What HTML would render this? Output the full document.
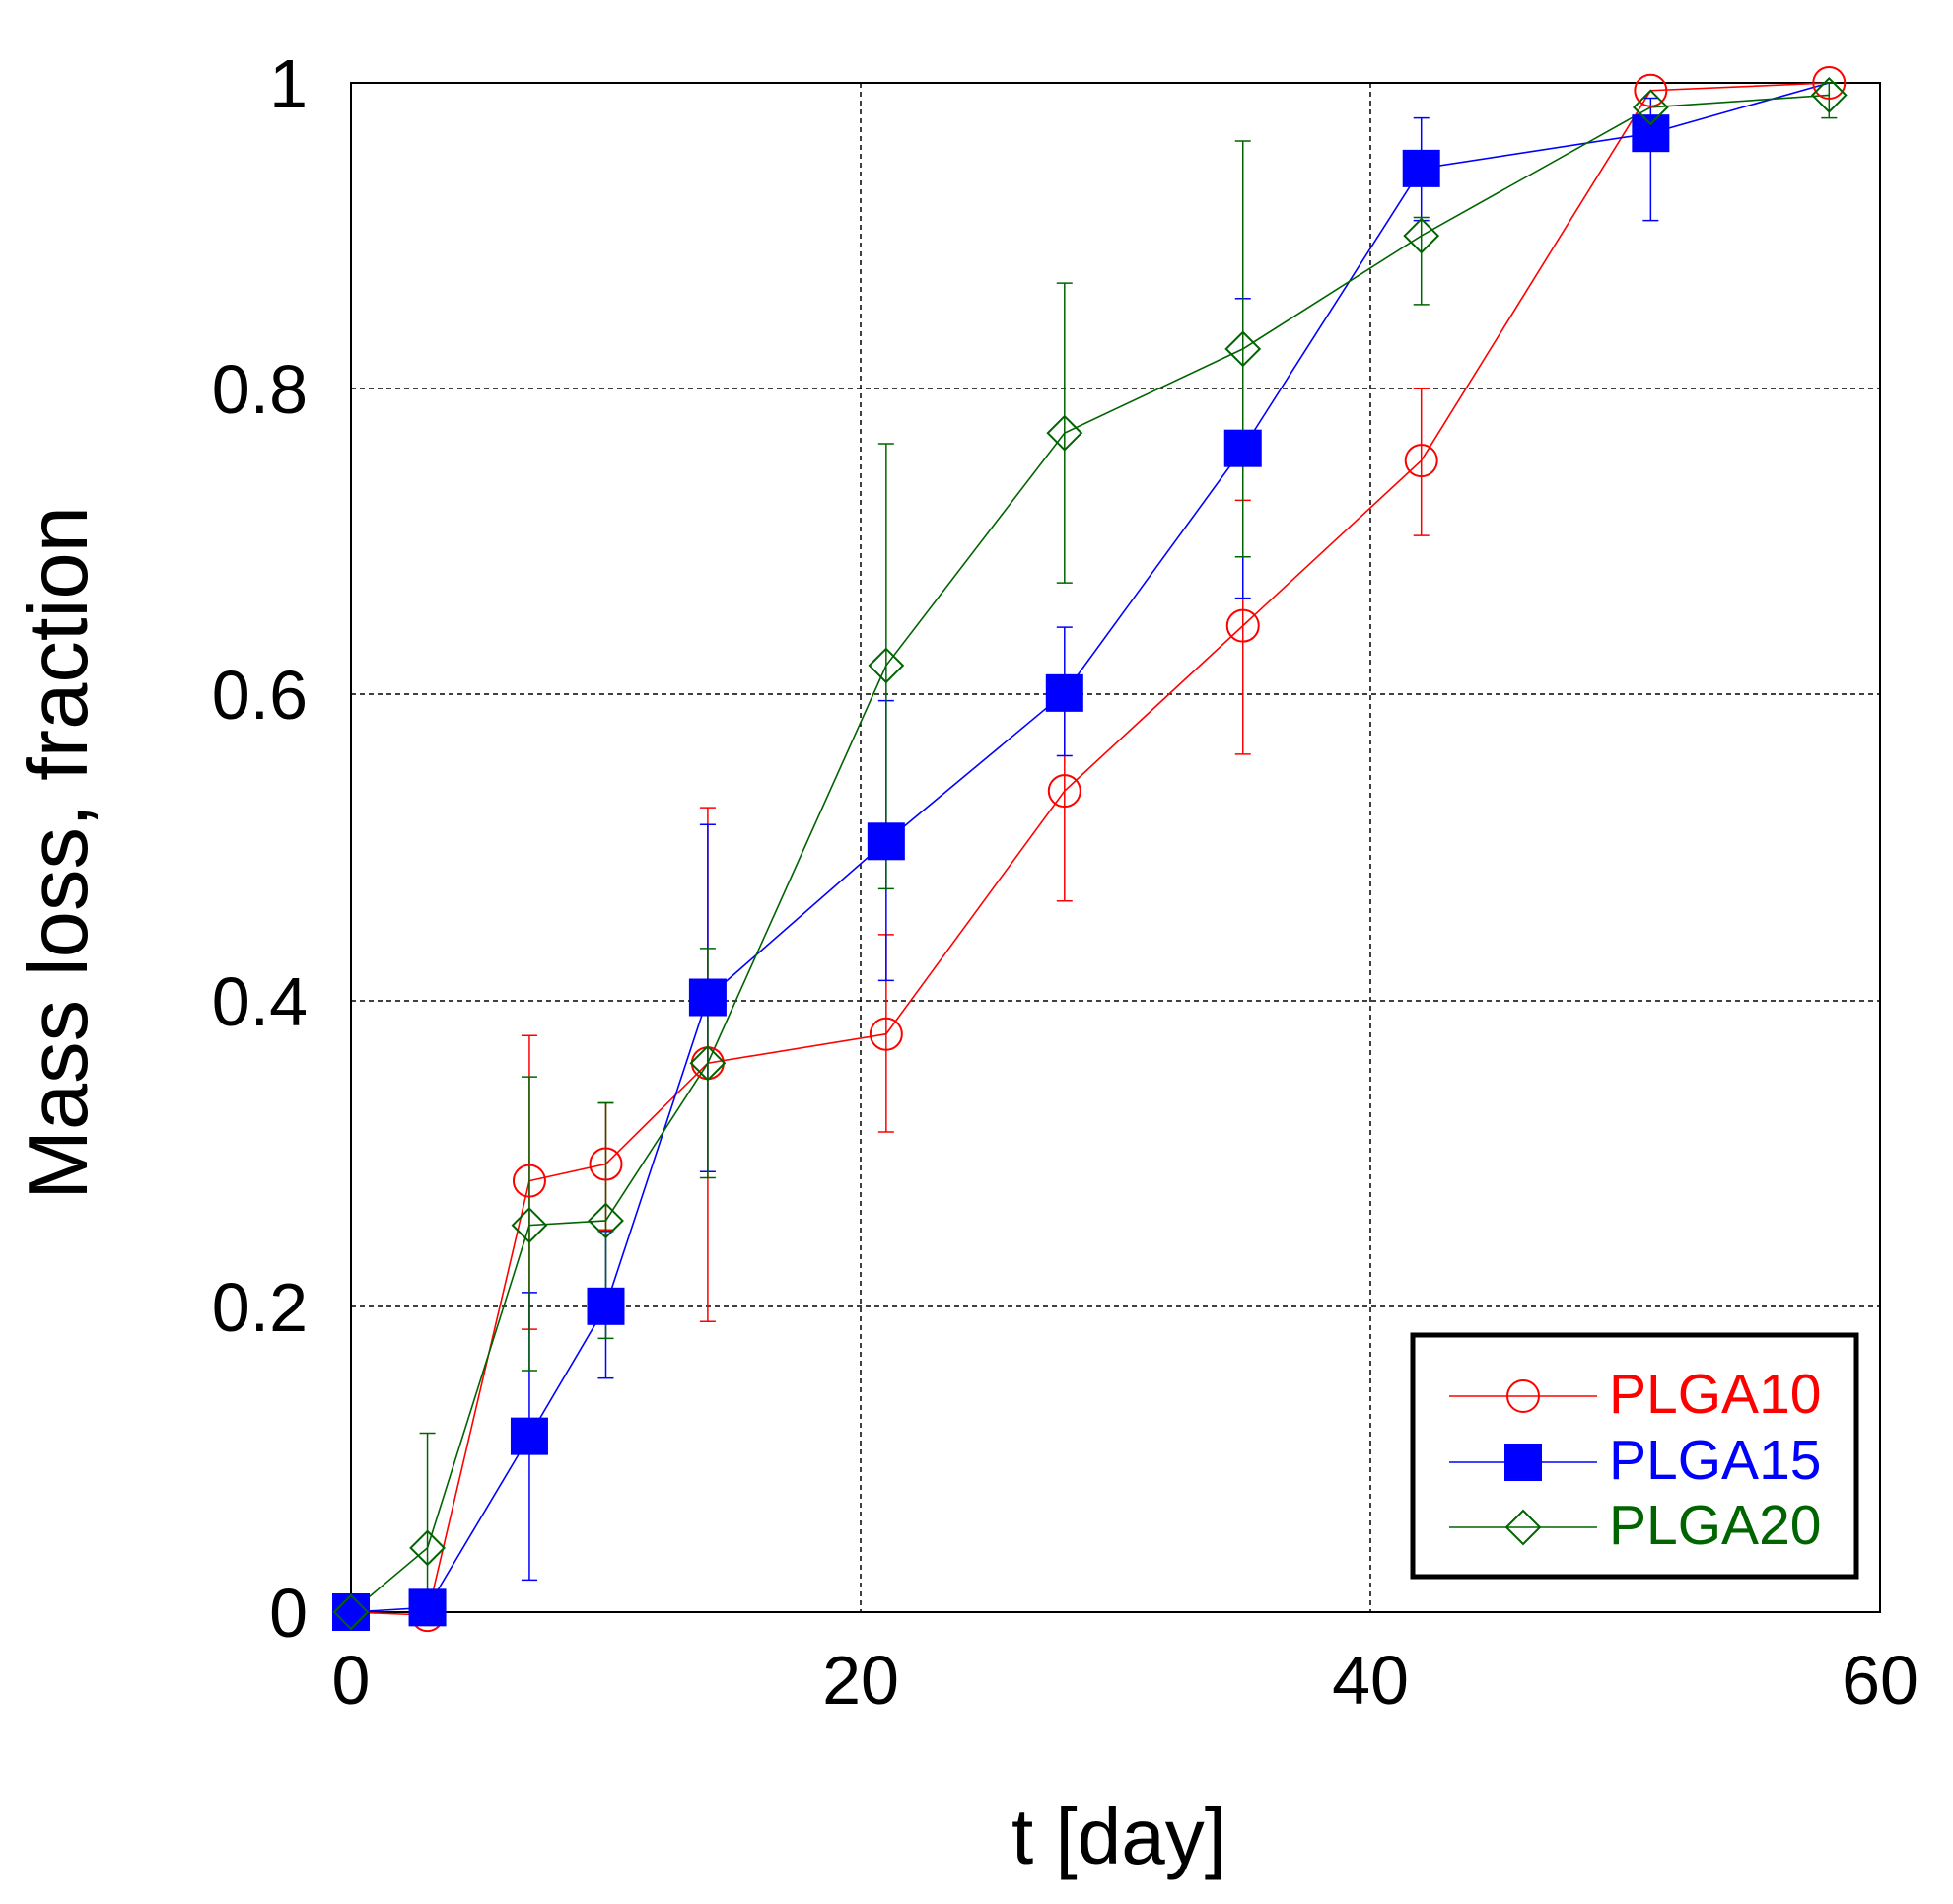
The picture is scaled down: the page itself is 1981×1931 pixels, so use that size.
<!DOCTYPE html>
<html><head><meta charset="utf-8"><style>html,body{margin:0;padding:0;background:#fff}</style></head>
<body>
<svg id="s" width="1981" height="1926" viewBox="0 0 1981 1926" xmlns="http://www.w3.org/2000/svg" font-family="Liberation Sans, Arial, sans-serif">
<rect width="1981" height="1926" fill="#fff"/>
<g stroke="#000" stroke-width="1.5" stroke-dasharray="5,4">
<line x1="873" y1="84" x2="873" y2="1635"/>
<line x1="1390" y1="84" x2="1390" y2="1635"/>
<line x1="356" y1="394" x2="1907" y2="394"/>
<line x1="356" y1="704" x2="1907" y2="704"/>
<line x1="356" y1="1015" x2="1907" y2="1015"/>
<line x1="356" y1="1325" x2="1907" y2="1325"/>
</g>
<rect x="356" y="84" width="1551" height="1551" fill="none" stroke="#000" stroke-width="2"/>
<g font-size="70" fill="#000" text-anchor="end">
<text x="312" y="1660">0</text>
<text x="312" y="1350">0.2</text>
<text x="312" y="1040">0.4</text>
<text x="312" y="729">0.6</text>
<text x="312" y="419">0.8</text>
<text x="312" y="109">1</text>
</g>
<g font-size="70" fill="#000" text-anchor="middle">
<text x="356" y="1728">0</text>
<text x="873" y="1728">20</text>
<text x="1390" y="1728">40</text>
<text x="1907" y="1728">60</text>
<text x="1135" y="1890" font-size="80">t [day]</text>
<text transform="translate(88,865) rotate(-90)" font-size="85">Mass loss, fraction</text>
</g>
<g id="d"></g>
<rect x="1433" y="1354" width="450" height="245" fill="#fff" stroke="#000" stroke-width="5"/>
<g font-size="57" text-anchor="start">
<text x="1632" y="1433" fill="#ff0000">PLGA10</text>
<text x="1632" y="1500" fill="#0000ff">PLGA15</text>
<text x="1632" y="1566" fill="#006400">PLGA20</text>
</g>
<g id="lg"></g>
</svg>
<script>
var NS="http://www.w3.org/2000/svg";
function X(t){return 356+t*1551/60}
function Y(v){return 1635-1551*v}
function el(p,n,a){var e=document.createElementNS(NS,n);for(var k in a)e.setAttribute(k,a[k]);p.appendChild(e);return e}
var t=[0,3,7,10,14,21,28,35,42,51,58];
var S=[
{c:"#ff0000",m:"o",v:[0,-0.002,0.282,0.293,0.359,0.378,0.537,0.645,0.753,0.995,1.0],
 e:[null,null,[0.185,0.377],[0.25,0.333],[0.19,0.526],[0.314,0.443],[0.465,0.608],[0.561,0.727],[0.704,0.8],null,null]},
{c:"#0000ff",m:"s",skip:10,v:[0,0.003,0.115,0.2,0.402,0.504,0.601,0.761,0.944,0.967,1.0],
 e:[null,null,[0.021,0.209],[0.153,0.249],[0.288,0.515],[0.413,0.596],[0.56,0.644],[0.663,0.859],[0.91,0.977],[0.91,0.99],null]},
{c:"#006400",m:"d",v:[0,0.042,0.253,0.256,0.359,0.619,0.771,0.826,0.9,0.984,0.992],
 e:[null,[0.0,0.117],[0.158,0.35],[0.179,0.333],[0.284,0.434],[0.473,0.764],[0.673,0.869],[0.69,0.962],[0.855,0.912],null,[0.977,1.0]]}
];
var d=document.getElementById("d"),lg=document.getElementById("lg");
function mark(p,m,c,x,y){
 if(m=="o")el(p,"circle",{cx:x,cy:y,r:16,fill:"none",stroke:c,"stroke-width":2});
 else if(m=="s")el(p,"rect",{x:x-19,y:y-19,width:38,height:38,fill:c});
 else el(p,"polygon",{points:(x)+","+(y-17)+" "+(x+17)+","+y+" "+x+","+(y+17)+" "+(x-17)+","+y,fill:"none",stroke:c,"stroke-width":2});
}
S.forEach(function(s){
 s.e.forEach(function(e,i){if(!e)return;var x=X(t[i]);
  el(d,"line",{x1:x,y1:Y(e[0]),x2:x,y2:Y(e[1]),stroke:s.c,"stroke-width":1.5});
  el(d,"line",{x1:x-8,y1:Y(e[0]),x2:x+8,y2:Y(e[0]),stroke:s.c,"stroke-width":1.5});
  el(d,"line",{x1:x-8,y1:Y(e[1]),x2:x+8,y2:Y(e[1]),stroke:s.c,"stroke-width":1.5});});
 el(d,"polyline",{points:s.v.map(function(v,i){return X(t[i])+","+Y(v)}).join(" "),fill:"none",stroke:s.c,"stroke-width":1.6});
});
S.forEach(function(s){s.v.forEach(function(v,i){if(s.skip===i)return;mark(d,s.m,s.c,X(t[i]),Y(v))})});
[1416,1483,1549].forEach(function(y,i){var s=S[i];
 el(lg,"line",{x1:1470,y1:y,x2:1620,y2:y,stroke:s.c,"stroke-width":1.6});
 mark(lg,s.m,s.c,1545,y);});
</script>
</body></html>
